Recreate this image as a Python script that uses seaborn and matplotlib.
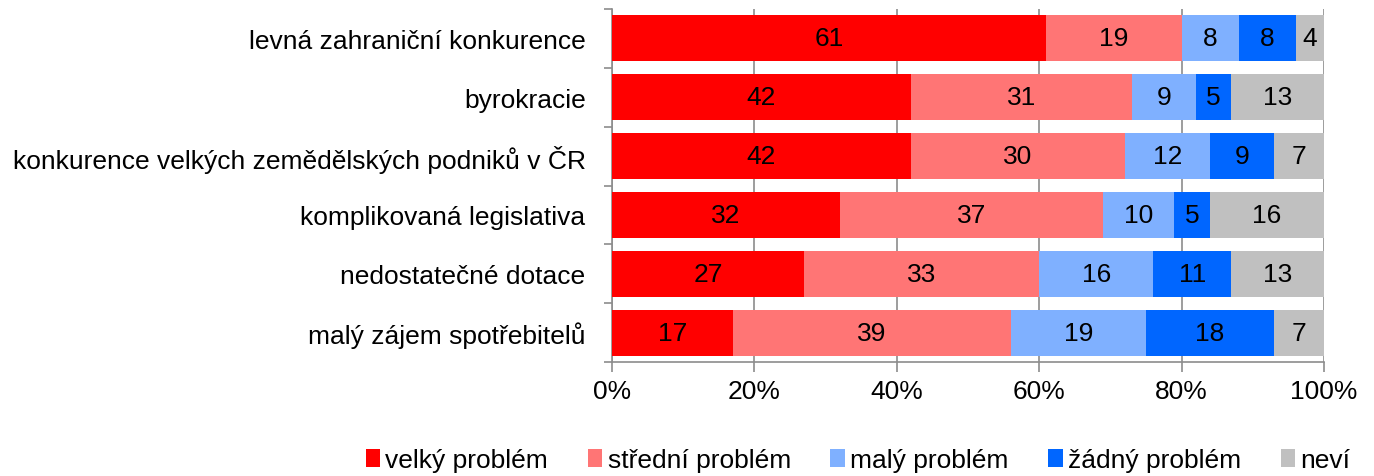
import numpy as np
import pandas as pd
import matplotlib
matplotlib.use("Agg")
import matplotlib.pyplot as plt
import seaborn as sns
from matplotlib.patches import Patch

categories = ["levná zahraniční konkurence", "byrokracie",
              "konkurence velkých zemědělských podniků v ČR",
              "komplikovaná legislativa", "nedostatečné dotace",
              "malý zájem spotřebitelů"]
series_names = ["velký problém", "střední problém", "malý problém",
                "žádný problém", "neví"]
velky = [61, 42, 42, 32, 27, 17]
stredni = [19, 31, 30, 37, 33, 39]
maly = [8, 9, 12, 10, 16, 19]
zadny = [8, 5, 9, 5, 11, 18]
nevi = [4, 13, 7, 16, 13, 7]
colors = ["#FF0000", "#FF7575", "#7FB0FF", "#0066FF", "#C0C0C0"]
xticks = [0, 20, 40, 60, 80, 100]

sns.set_theme(style="white")
plt.rcParams['font.family'] = ['Liberation Sans', 'DejaVu Sans']
plt.rcParams['text.color'] = 'black'
plt.rcParams['xtick.color'] = 'black'
plt.rcParams['ytick.color'] = 'black'

FS = 19

values = np.array([velky, stredni, maly, zadny, nevi], dtype=float)
cums = np.cumsum(values, axis=0)
totals = cums[-1]

fig = plt.figure(figsize=(13.74, 4.77), dpi=100)
ax = fig.add_axes([612/1374, 1-363/477, 712/1374, 353/477])

for i in range(len(series_names) - 1, -1, -1):
    df = pd.DataFrame({"cat": categories, "val": cums[i] / totals * 100})
    sns.barplot(data=df, y="cat", x="val", orient="h", color=colors[i],
                saturation=1, width=0.78, ax=ax, zorder=3, linewidth=0)

for i in range(len(series_names)):
    starts = (cums[i] - values[i]) / totals * 100
    mids = starts + values[i] / totals * 100 / 2
    for j, (m, v) in enumerate(zip(mids, values[i])):
        ax.text(m, j, f"{int(v)}", ha="center", va="center", fontsize=FS,
                color="black", zorder=5)

ax.set_xlim(0, 100)
ax.set_ylim(len(categories) - 0.5, -0.5)
ax.set_xticks(xticks)
ax.set_xticklabels([f"{t}%" for t in xticks], fontsize=FS)
ax.set_yticks(range(len(categories)))
ax.set_yticklabels(categories, fontsize=FS)
ax.set_xlabel("")
ax.set_ylabel("")
ax.xaxis.grid(True, color="#8C8C8C", linewidth=1.2, zorder=0)
ax.set_axisbelow(True)
for s in ["top", "right"]:
    ax.spines[s].set_visible(False)
for s in ["left", "bottom"]:
    ax.spines[s].set_color("#8C8C8C")
    ax.spines[s].set_linewidth(1.2)
ax.tick_params(axis="y", length=0, pad=19)
ax.tick_params(axis="x", length=7, color="#8C8C8C", width=1.2, pad=5, bottom=True)
ax.set_yticks(np.arange(-0.5, len(categories), 1), minor=True)
ax.tick_params(axis="y", which="minor", length=6, color="#8C8C8C", width=1.2, left=True)

handles = [Patch(facecolor=c, edgecolor="none") for c in colors]
fig.legend(handles, series_names, loc="center", bbox_to_anchor=(858/1374, 1-461/477),
           ncol=5, frameon=False, fontsize=FS, handlelength=0.55, handleheight=0.7,
           handletextpad=0.2, columnspacing=1.5)

fig.savefig("out.png", dpi=100)
